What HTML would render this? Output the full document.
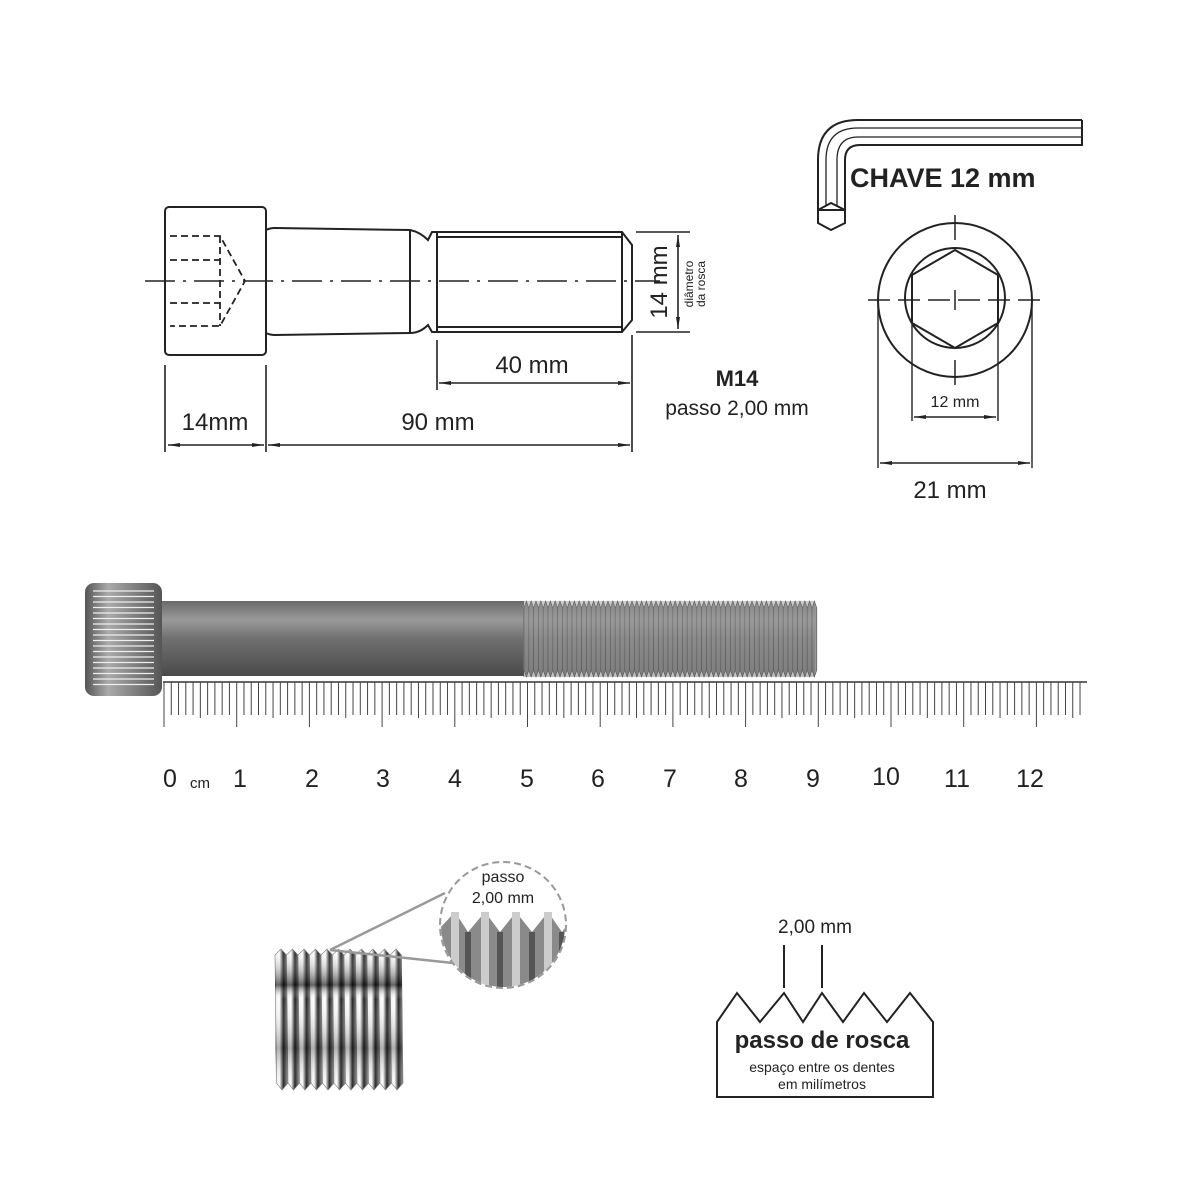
<!DOCTYPE html>
<html><head><meta charset="utf-8"><style>
html,body{margin:0;padding:0;background:#fff}
svg{display:block}
text{font-family:"Liberation Sans",Arial,sans-serif;fill:#222}
</style></head><body>
<svg id="s" width="1200" height="1200" viewBox="0 0 1200 1200" xmlns="http://www.w3.org/2000/svg">
<defs>
<linearGradient id="shank" x1="0" y1="0" x2="0" y2="1">
<stop offset="0" stop-color="#6a6a6a"/><stop offset="0.25" stop-color="#9a9a9a"/><stop offset="0.5" stop-color="#707070"/><stop offset="1" stop-color="#4a4a4a"/></linearGradient>
<linearGradient id="head" x1="0" y1="0" x2="1" y2="0">
<stop offset="0" stop-color="#555"/><stop offset="0.3" stop-color="#aaa"/><stop offset="1" stop-color="#555"/></linearGradient>
<linearGradient id="thr" x1="0" y1="0" x2="1" y2="0">
<stop offset="0" stop-color="#eee"/><stop offset="0.35" stop-color="#fff"/><stop offset="0.65" stop-color="#222"/><stop offset="1" stop-color="#999"/></linearGradient>
<linearGradient id="tv" x1="0" y1="0" x2="0" y2="1">
<stop offset="0" stop-color="#fff" stop-opacity="0"/><stop offset="0.25" stop-color="#000" stop-opacity="0.6"/><stop offset="0.35" stop-color="#fff" stop-opacity="0"/><stop offset="0.7" stop-color="#000" stop-opacity="0.3"/><stop offset="1" stop-color="#fff" stop-opacity="0"/></linearGradient>
<marker id="ar" markerWidth="12" markerHeight="6" refX="12" refY="3" orient="auto-start-reverse" markerUnits="userSpaceOnUse"><path d="M0,1 L12,3 L0,5 z" fill="#222"/></marker>
<clipPath id="cz"><circle cx="503" cy="925" r="62"/></clipPath>
</defs>
<g fill="none" stroke="#222" stroke-width="2">
<rect x="165" y="207" width="101" height="148" rx="4"/>
<path d="M266,230 Q270,228 275,228 L410,230 Q420,232 428,240 L432,232 L622,232 L632,245 L632,320 L622,332 L432,332 L428,325 Q420,333 410,333 L275,335 Q270,335 266,333"/>
<line x1="410" y1="230" x2="410" y2="333"/>
<line x1="437" y1="232" x2="437" y2="332"/>
<line x1="437" y1="237" x2="622" y2="237"/>
<line x1="437" y1="327" x2="622" y2="327"/>
<line x1="622" y1="232" x2="622" y2="332"/>
<g stroke-dasharray="7,4" stroke-width="1.8">
<path d="M170,236 L220,236 L245,281 L220,326 L170,326"/>
<line x1="170" y1="260" x2="220" y2="260"/><line x1="170" y1="303" x2="220" y2="303"/>
<line x1="220" y1="236" x2="220" y2="326"/>
</g>
<line x1="145" y1="281" x2="660" y2="281" stroke-width="1.5" stroke-dasharray="30,8,3,8"/>
<g stroke-width="1.6">
<line x1="165" y1="365" x2="165" y2="452"/><line x1="266" y1="365" x2="266" y2="452"/>
<line x1="437" y1="340" x2="437" y2="390"/><line x1="632" y1="335" x2="632" y2="452"/>
<line x1="168" y1="445" x2="264" y2="445" marker-start="url(#ar)" marker-end="url(#ar)"/>
<line x1="268" y1="445" x2="630" y2="445" marker-start="url(#ar)" marker-end="url(#ar)"/>
<line x1="439" y1="383" x2="630" y2="383" marker-start="url(#ar)" marker-end="url(#ar)"/>
<line x1="636" y1="232" x2="690" y2="232"/><line x1="636" y1="332" x2="690" y2="332"/>
<line x1="678" y1="235" x2="678" y2="329" marker-start="url(#ar)" marker-end="url(#ar)"/>
</g>
<!-- key -->
<path d="M1082,120 L858,120 Q818,120 818,160 L818,210"/>
<path d="M845,210 L845,160 Q845,145 860,145 L1082,145 L1082,120"/>
<path d="M1082,128 L858,128 Q826,128 826,160 L826,206 M1082,137 L858,137 Q837,137 837,160 L837,206" stroke-width="1.3"/>
<path d="M818,210 L831,203 L845,210 L845,223 L831,230 L818,223 Z" fill="#fff"/>
<line x1="818" y1="210" x2="845" y2="210"/>
<circle cx="955" cy="300" r="77"/>
<circle cx="955" cy="298" r="50"/>
<path d="M955,250 L998,275 L998,323 L955,348 L912,323 L912,275 Z"/>
<line x1="868" y1="300" x2="1042" y2="300" stroke-width="1.5" stroke-dasharray="22,8"/>
<line x1="955" y1="215" x2="955" y2="240" stroke-width="1.5"/><line x1="955" y1="360" x2="955" y2="385" stroke-width="1.5"/>
<line x1="955" y1="290" x2="955" y2="310" stroke-width="1.5"/>
<g stroke-width="1.4">
<line x1="912" y1="300" x2="912" y2="421"/><line x1="998" y1="300" x2="998" y2="421"/>
<line x1="914" y1="417" x2="996" y2="417" marker-start="url(#ar)" marker-end="url(#ar)"/>
<line x1="878" y1="300" x2="878" y2="468"/><line x1="1032" y1="300" x2="1032" y2="468"/>
<line x1="880" y1="463" x2="1030" y2="463" marker-start="url(#ar)" marker-end="url(#ar)"/>
</g>
</g>
<text x="215" y="430" font-size="24" text-anchor="middle">14mm</text>
<text x="438" y="430" font-size="24" text-anchor="middle">90 mm</text>
<text x="532" y="373" font-size="24" text-anchor="middle">40 mm</text>
<text transform="translate(667,282) rotate(-90)" font-size="24" text-anchor="middle">14 mm</text>
<text transform="translate(693,284) rotate(-90)" font-size="12" text-anchor="middle">diâmetro</text>
<text transform="translate(705,284) rotate(-90)" font-size="12" text-anchor="middle">da rosca</text>
<text x="737" y="386" font-size="22" font-weight="bold" text-anchor="middle">M14</text>
<text x="737" y="415" font-size="21" text-anchor="middle">passo 2,00 mm</text>
<text x="850" y="187" font-size="27" font-weight="bold">CHAVE 12 mm</text>
<text x="955" y="407" font-size="16" text-anchor="middle">12 mm</text>
<text x="950" y="498" font-size="24" text-anchor="middle">21 mm</text>
<rect x="162" y="601" width="362" height="75" fill="url(#shank)"/>
<rect x="523" y="608" width="292" height="62" fill="#7a7a7a"/>
<g id="teeth"></g>
<rect x="523" y="601" width="292" height="76" fill="url(#shank)" opacity="0.35"/>
<rect x="85" y="583" width="77" height="113" rx="9" fill="url(#head)"/>
<g id="knurl" stroke="#eee" stroke-width="1.3"></g>
<line x1="163" y1="682" x2="1087" y2="682" stroke="#333" stroke-width="1.5"/>
<g id="rul" stroke="#444" stroke-width="1"></g>
<g font-size="25" text-anchor="middle" id="rl"></g>
<g id="thp"></g>
<rect x="275" y="950" width="127" height="140" fill="url(#tv)"/>
<line x1="330" y1="950" x2="445" y2="893" stroke="#999" stroke-width="2.5"/>
<line x1="330" y1="950" x2="453" y2="963" stroke="#999" stroke-width="2.5"/>
<circle cx="503" cy="925" r="63" fill="#fff" stroke="#999" stroke-width="2" stroke-dasharray="7,4"/>
<g clip-path="url(#cz)">
<path d="M440,988 L440,928 L455,912 L468,932 L485,912 L500,932 L516,912 L532,932 L548,912 L562,932 L570,920 L570,988 Z" fill="#8a8a8a"/>
<path d="M455,912 L455,988 M485,912 L485,988 M516,912 L516,988 M548,912 L548,988" stroke="#ccc" stroke-width="8"/>
<path d="M468,932 L468,988 M500,932 L500,988 M532,932 L532,988 M562,932 L562,988" stroke="#555" stroke-width="6"/>
</g>
<text x="503" y="882" font-size="16" text-anchor="middle">passo</text>
<text x="503" y="903" font-size="16" text-anchor="middle">2,00 mm</text>
<path d="M717,1097 L717,1022 L737,993 L760,1022 L784,993 L803,1022 L822,993 L843,1022 L864,993 L887,1022 L910,993 L933,1022 L933,1097 Z" fill="none" stroke="#222" stroke-width="2"/>
<line x1="784" y1="945" x2="784" y2="988" stroke="#222" stroke-width="2"/>
<line x1="822" y1="945" x2="822" y2="988" stroke="#222" stroke-width="2"/>
<text x="815" y="933" font-size="19" text-anchor="middle">2,00 mm</text>
<text x="822" y="1048" font-size="24" font-weight="bold" text-anchor="middle">passo de rosca</text>
<text x="822" y="1072" font-size="14" text-anchor="middle">espaço entre os dentes</text>
<text x="822" y="1089" font-size="14" text-anchor="middle">em milímetros</text>
</svg>
<script>
var NS="http://www.w3.org/2000/svg";
function el(p,t,a){var e=document.createElementNS(NS,t);for(var k in a)e.setAttribute(k,a[k]);p.appendChild(e);return e;}
var t=document.getElementById('teeth');
for(var x=524;x<814;x+=4.8){
 el(t,'path',{d:'M'+x+',608 L'+(x+2.4)+',601 L'+(x+4.8)+',608 L'+(x+4.8)+',670 L'+(x+2.4)+',677 L'+x+',670 Z',fill:'#999',stroke:'#555','stroke-width':0.6});
}
var kn=document.getElementById('knurl');
for(var y=591;y<690;y+=5.5) el(kn,'line',{x1:93,y1:y,x2:154,y2:y});
var r=document.getElementById('rul'),rl=document.getElementById('rl');
var px=72.7;
for(var i=0;i<=126;i++){var x=164+i*px/10;if(x>1087)break;
 el(r,'line',{x1:x,y1:682,x2:x,y2:(i%10==0?727:(i%5==0?718:715))});}
var labs=['0','1','2','3','4','5','6','7','8','9','10','11','12'];
var lx=[170,240,312,383,455,527,598,670,741,813,886,957,1030];
for(var i=0;i<13;i++){var tx=el(rl,'text',{x:lx[i],y:(i==10?785:787)});tx.textContent=labs[i];}
var c=el(rl,'text',{x:200,y:788,'font-size':15});c.textContent='cm';
var th=document.getElementById('thp');
for(var i=0;i<11;i++){var x=275+i*11.5;
 el(th,'path',{d:'M'+x+',955 L'+(x+6)+',949 L'+(x+11.5)+',955 L'+(x+13)+',1083 L'+(x+7)+',1090 L'+(x+1.5)+',1083 Z',fill:'url(#thr)',stroke:'#777','stroke-width':0.6});}
</script>
</body></html>
